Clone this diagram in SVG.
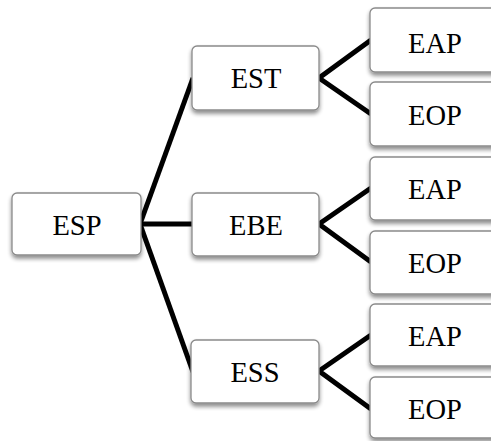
<svg xmlns="http://www.w3.org/2000/svg" width="491" height="441" viewBox="0 0 491 441">
<defs>
<filter id="sh" x="-20%" y="-20%" width="140%" height="150%">
<feGaussianBlur in="SourceAlpha" stdDeviation="2"/>
<feOffset dx="0" dy="3" result="b"/>
<feComponentTransfer><feFuncA type="linear" slope="0.45"/></feComponentTransfer>
<feMerge><feMergeNode/><feMergeNode in="SourceGraphic"/></feMerge>
</filter>
</defs>
<style>
.box{fill:#fff;stroke:#8a8a8a;stroke-width:1.3;filter:url(#sh)}
.t{font-family:"Liberation Serif","Times New Roman",serif;font-size:28.5px;fill:#000;text-anchor:middle}
.c{stroke:#000;stroke-width:5;fill:none;stroke-linecap:butt}
</style>
<rect width="491" height="441" fill="#fff"/>
<g id="connectors">
<line class="c" x1="140" y1="224" x2="193" y2="78"/>
<line class="c" x1="140" y1="224" x2="193" y2="224"/>
<line class="c" x1="140" y1="224" x2="193" y2="372"/>
<polyline class="c" points="371,40 319,78 371,114"/>
<polyline class="c" points="371,188 319,224 371,262"/>
<polyline class="c" points="371,335 319,371 371,409"/>
</g>
<g id="ESP"><rect class="box" x="12" y="193" width="129" height="62" rx="5"/><text class="t" x="77" y="235">ESP</text></g>
<g id="EST"><rect class="box" x="192" y="46" width="127" height="64" rx="5"/><text class="t" x="256" y="88">EST</text></g>
<g id="EBE"><rect class="box" x="192" y="193" width="127" height="63" rx="5"/><text class="t" x="256" y="235">EBE</text></g>
<g id="ESS"><rect class="box" x="191" y="340" width="128" height="63" rx="5"/><text class="t" x="255" y="382">ESS</text></g>
<g id="EAP1"><rect class="box" x="370" y="8" width="135" height="64" rx="5"/><text class="t" x="435" y="53">EAP</text></g>
<g id="EOP1"><rect class="box" x="370" y="82" width="135" height="64" rx="5"/><text class="t" x="435" y="125">EOP</text></g>
<g id="EAP2"><rect class="box" x="370" y="157" width="135" height="63" rx="5"/><text class="t" x="435" y="199">EAP</text></g>
<g id="EOP2"><rect class="box" x="370" y="231" width="135" height="63" rx="5"/><text class="t" x="435" y="273">EOP</text></g>
<g id="EAP3"><rect class="box" x="370" y="304" width="135" height="62" rx="5"/><text class="t" x="435" y="346">EAP</text></g>
<g id="EOP3"><rect class="box" x="370" y="377" width="135" height="61" rx="5"/><text class="t" x="435" y="419">EOP</text></g>
</svg>
